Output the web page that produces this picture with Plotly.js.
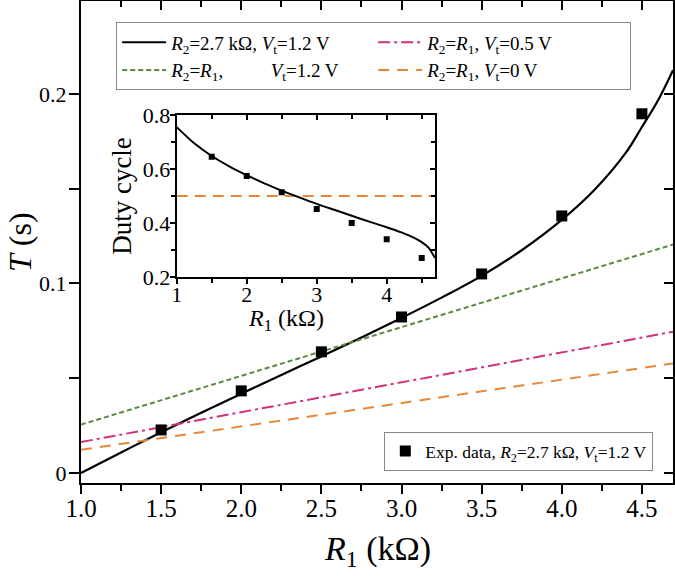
<!DOCTYPE html>
<html>
<head>
<meta charset="utf-8">
<script src="https://cdn.plot.ly/plotly-3.0.1.min.js"></script>
<style>html,body{margin:0;padding:0;background:#fff;}#chart{width:675px;height:576px;}</style>
</head>
<body>
<div id="chart"></div>
<script>
// ---- Data ----
const r1Model = [1.0, 1.25, 1.5, 1.75, 2.0, 2.25, 2.5, 2.75, 3.0, 3.25, 3.5, 3.75, 4.0, 4.2, 4.4, 4.5, 4.6, 4.694];
const tModel  = [0.0, 0.0108, 0.0215, 0.0318, 0.0418, 0.0517, 0.0615, 0.0715, 0.0818, 0.0925, 0.104, 0.1175, 0.1335, 0.149, 0.169, 0.1825, 0.1965, 0.2125];

const r1Line   = [1.0, 4.694];
const tGreen   = [0.0255, 0.1205];   // R2=R1, Vt=1.2 V
const tPink    = [0.0163, 0.0745];   // R2=R1, Vt=0.5 V
const tOrange  = [0.0122, 0.0578];   // R2=R1, Vt=0 V

const r1Exp = [1.5, 2.0, 2.5, 3.0, 3.5, 4.0, 4.5];
const tExp  = [0.0227, 0.0433, 0.0639, 0.0823, 0.105, 0.1356, 0.1895];

// inset: duty cycle
const r1Duty    = [1.0, 1.25, 1.5, 1.75, 2.0, 2.25, 2.5, 2.75, 3.0, 3.25, 3.5, 3.75, 4.0, 4.2, 4.4, 4.5, 4.6, 4.69];
const dutyModel = [0.755, 0.695, 0.648, 0.61, 0.577, 0.547, 0.52, 0.495, 0.471, 0.449, 0.427, 0.405, 0.384, 0.366, 0.344, 0.329, 0.308, 0.27];
const dutyExp   = [0.645, 0.574, 0.514, 0.452, 0.40, 0.34, 0.27];
const dutyHalf  = [0.5, 0.5];

const xTickVals = [1.0, 1.5, 2.0, 2.5, 3.0, 3.5, 4.0, 4.5];
const xTickText = ['1.0', '1.5', '2.0', '2.5', '3.0', '3.5', '4.0', '4.5'];
const yTickVals = [0, 0.1, 0.2];
const yTickText = ['0', '0.1', '0.2'];
const insetXTicks = [1, 2, 3, 4];
const insetYTicks = [0.2, 0.4, 0.6, 0.8];
const insetYText  = ['0.2', '0.4', '0.6', '0.8'];

const names = {
  solid: '<i>R</i><sub>2</sub>=2.7 kΩ, <i>V</i><sub>t</sub>=1.2 V',
  pink: '<i>R</i><sub>2</sub>=<i>R</i><sub>1</sub>, <i>V</i><sub>t</sub>=0.5 V',
  green: '<i>R</i><sub>2</sub>=<i>R</i><sub>1</sub>,\u00a0\u00a0\u00a0\u00a0\u00a0\u00a0\u00a0\u00a0\u00a0\u00a0<i>V</i><sub>t</sub>=1.2 V',
  orange: '<i>R</i><sub>2</sub>=<i>R</i><sub>1</sub>, <i>V</i><sub>t</sub>=0 V',
  exp: 'Exp. data, <i>R</i><sub>2</sub>=2.7 kΩ, <i>V</i><sub>t</sub>=1.2 V'
};
const yTitle = '<i>T</i> (s)';
const xTitle = '<i>R</i><sub>1</sub> (kΩ)';
const insetYTitle = 'Duty cycle';

const FONT = 'Liberation Serif, Times New Roman, serif';
const GREEN = '#5b8a3e', PINK = '#d1327c', ORANGE = '#e6883c';

const traces = [
  {x: r1Model, y: tModel, mode: 'lines', name: names.solid, line: {color: '#000', width: 2.2, shape: 'spline'}, legend: 'legend'},
  {x: r1Line, y: tPink, mode: 'lines', name: names.pink, line: {color: PINK, width: 2, dash: '12px,4px,3px,4px'}, legend: 'legend'},
  {x: r1Line, y: tGreen, mode: 'lines', name: names.green, line: {color: GREEN, width: 2, dash: '5px,3px'}, legend: 'legend'},
  {x: r1Line, y: tOrange, mode: 'lines', name: names.orange, line: {color: ORANGE, width: 2, dash: '11px,8px'}, legend: 'legend'},
  {x: r1Exp, y: tExp, mode: 'markers', name: names.exp, marker: {symbol: 'square', size: 11, color: '#000'}, legend: 'legend2'},
  // inset
  {x: r1Line, y: dutyHalf, xaxis: 'x2', yaxis: 'y2', mode: 'lines', showlegend: false, line: {color: ORANGE, width: 2.2, dash: '11px,7px'}},
  {x: r1Duty, y: dutyModel, xaxis: 'x2', yaxis: 'y2', mode: 'lines', showlegend: false, line: {color: '#000', width: 2, shape: 'spline', smoothing: 0.8}},
  {x: r1Exp, y: dutyExp, xaxis: 'x2', yaxis: 'y2', mode: 'markers', showlegend: false, marker: {symbol: 'square', size: 6, color: '#000'}},
  // empty traces carrying the mirrored (inward-tick) axes
  {x: [], y: [], xaxis: 'x3', yaxis: 'y3', showlegend: false},
  {x: [], y: [], xaxis: 'x4', yaxis: 'y4', showlegend: false}
];

const xRange = [1, 4.694];
const yRange = [-0.0053, 0.249];
const insetX = [0.1617, 0.598];
const insetY = [0.4274, 0.7635];

const baseAx = {showgrid: false, zeroline: false, showline: true, linecolor: '#000', linewidth: 2,
  tickcolor: '#000', tickwidth: 2, fixedrange: true};

const layout = {
  width: 675, height: 576,
  margin: {l: 81, r: 2, t: 1, b: 93, autoexpand: false},
  paper_bgcolor: '#fff', plot_bgcolor: '#fff',
  font: {family: FONT, color: '#000'},
  showlegend: true,
  xaxis: Object.assign({}, baseAx, {
    range: xRange, tickmode: 'array', tickvals: xTickVals, ticktext: xTickText,
    ticks: 'outside', ticklen: 9, tickfont: {size: 25, family: FONT}, ticklabelstandoff: -7,
    minor: {dtick: 0.25, tick0: 1, ticks: 'outside', ticklen: 6, tickwidth: 2, tickcolor: '#000'},
    anchor: 'y'
  }),
  yaxis: Object.assign({}, baseAx, {
    range: yRange, tickmode: 'array', tickvals: yTickVals, ticktext: yTickText,
    ticks: 'outside', ticklen: 10, tickfont: {size: 22, family: FONT}, ticklabelstandoff: -2,
    minor: {dtick: 0.05, tick0: 0, ticks: 'outside', ticklen: 10, tickwidth: 2, tickcolor: '#000'},
    anchor: 'x'
  }),
  xaxis3: Object.assign({}, baseAx, {
    range: xRange, overlaying: 'x', side: 'top', anchor: 'y', showticklabels: false,
    tickmode: 'array', tickvals: xTickVals, ticks: 'inside', ticklen: 9,
    minor: {dtick: 0.25, tick0: 1, ticks: 'inside', ticklen: 6, tickwidth: 2, tickcolor: '#000'}
  }),
  yaxis3: Object.assign({}, baseAx, {
    range: yRange, overlaying: 'y', side: 'right', anchor: 'x', showticklabels: false,
    tickmode: 'array', tickvals: yTickVals, ticks: 'inside', ticklen: 9,
    minor: {dtick: 0.05, tick0: 0, ticks: 'inside', ticklen: 9, tickwidth: 2, tickcolor: '#000'}
  }),
  xaxis2: Object.assign({}, baseAx, {
    domain: insetX, anchor: 'y2', range: [1, 4.69], tickmode: 'array', tickvals: insetXTicks,
    ticks: 'outside', ticklen: 5, tickfont: {size: 22, family: FONT}, ticklabelstandoff: -8,
    minor: {dtick: 0.5, tick0: 1, ticks: 'outside', ticklen: 4, tickwidth: 2, tickcolor: '#000'}
  }),
  yaxis2: Object.assign({}, baseAx, {
    domain: insetY, anchor: 'x2', range: [0.2, 0.8], tickmode: 'array', tickvals: insetYTicks, ticktext: insetYText,
    ticks: 'outside', ticklen: 5, tickfont: {size: 22, family: FONT}, ticklabelstandoff: -5,
    minor: {dtick: 0.1, tick0: 0.2, ticks: 'outside', ticklen: 4, tickwidth: 2, tickcolor: '#000'},
    title: {text: insetYTitle, font: {size: 27, family: FONT}, standoff: 3}, automargin: true
  }),
  xaxis4: Object.assign({}, baseAx, {
    domain: insetX, overlaying: 'x2', side: 'top', anchor: 'y2', range: [1, 4.69], showticklabels: false,
    tickmode: 'array', tickvals: insetXTicks, ticks: 'inside', ticklen: 5,
    minor: {dtick: 0.5, tick0: 1, ticks: 'inside', ticklen: 4, tickwidth: 2, tickcolor: '#000'}
  }),
  yaxis4: Object.assign({}, baseAx, {
    domain: insetY, overlaying: 'y2', side: 'right', anchor: 'x2', range: [0.2, 0.8], showticklabels: false,
    tickmode: 'array', tickvals: insetYTicks, ticks: 'inside', ticklen: 5,
    minor: {dtick: 0.1, tick0: 0.2, ticks: 'inside', ticklen: 4, tickwidth: 2, tickcolor: '#000'}
  }),
  annotations: [
    {text: yTitle, xref: 'paper', yref: 'paper', x: -0.103, y: 0.5, xanchor: 'center', yanchor: 'middle',
     textangle: -90, showarrow: false, font: {size: 32, family: FONT, color: '#000'}},
    {text: xTitle, xref: 'paper', yref: 'paper', x: 0.5, y: -0.141, xanchor: 'center', yanchor: 'middle',
     showarrow: false, font: {size: 34, family: FONT, color: '#000'}},
    {text: xTitle, xref: 'paper', yref: 'paper', x: 0.3463, y: 0.338, xanchor: 'center', yanchor: 'middle',
     showarrow: false, font: {size: 24, family: FONT, color: '#000'}}
  ],
  legend: {
    x: 0.059, y: 0.956, xanchor: 'left', yanchor: 'top', orientation: 'h',
    entrywidth: 197, entrywidthmode: 'pixels', traceorder: 'normal',
    bgcolor: '#fff', bordercolor: '#888', borderwidth: 1.2,
    font: {size: 19, family: FONT, color: '#000'}, itemwidth: 44
  },
  legend2: {
    x: 0.512, y: 0.1058, xanchor: 'left', yanchor: 'top',
    bgcolor: '#fff', bordercolor: '#888', borderwidth: 1.2,
    font: {size: 17.5, family: FONT, color: '#000'}, itemwidth: 30
  }
};

Plotly.newPlot('chart', traces, layout, {staticPlot: true, displayModeBar: false});
</script>
</body>
</html>
